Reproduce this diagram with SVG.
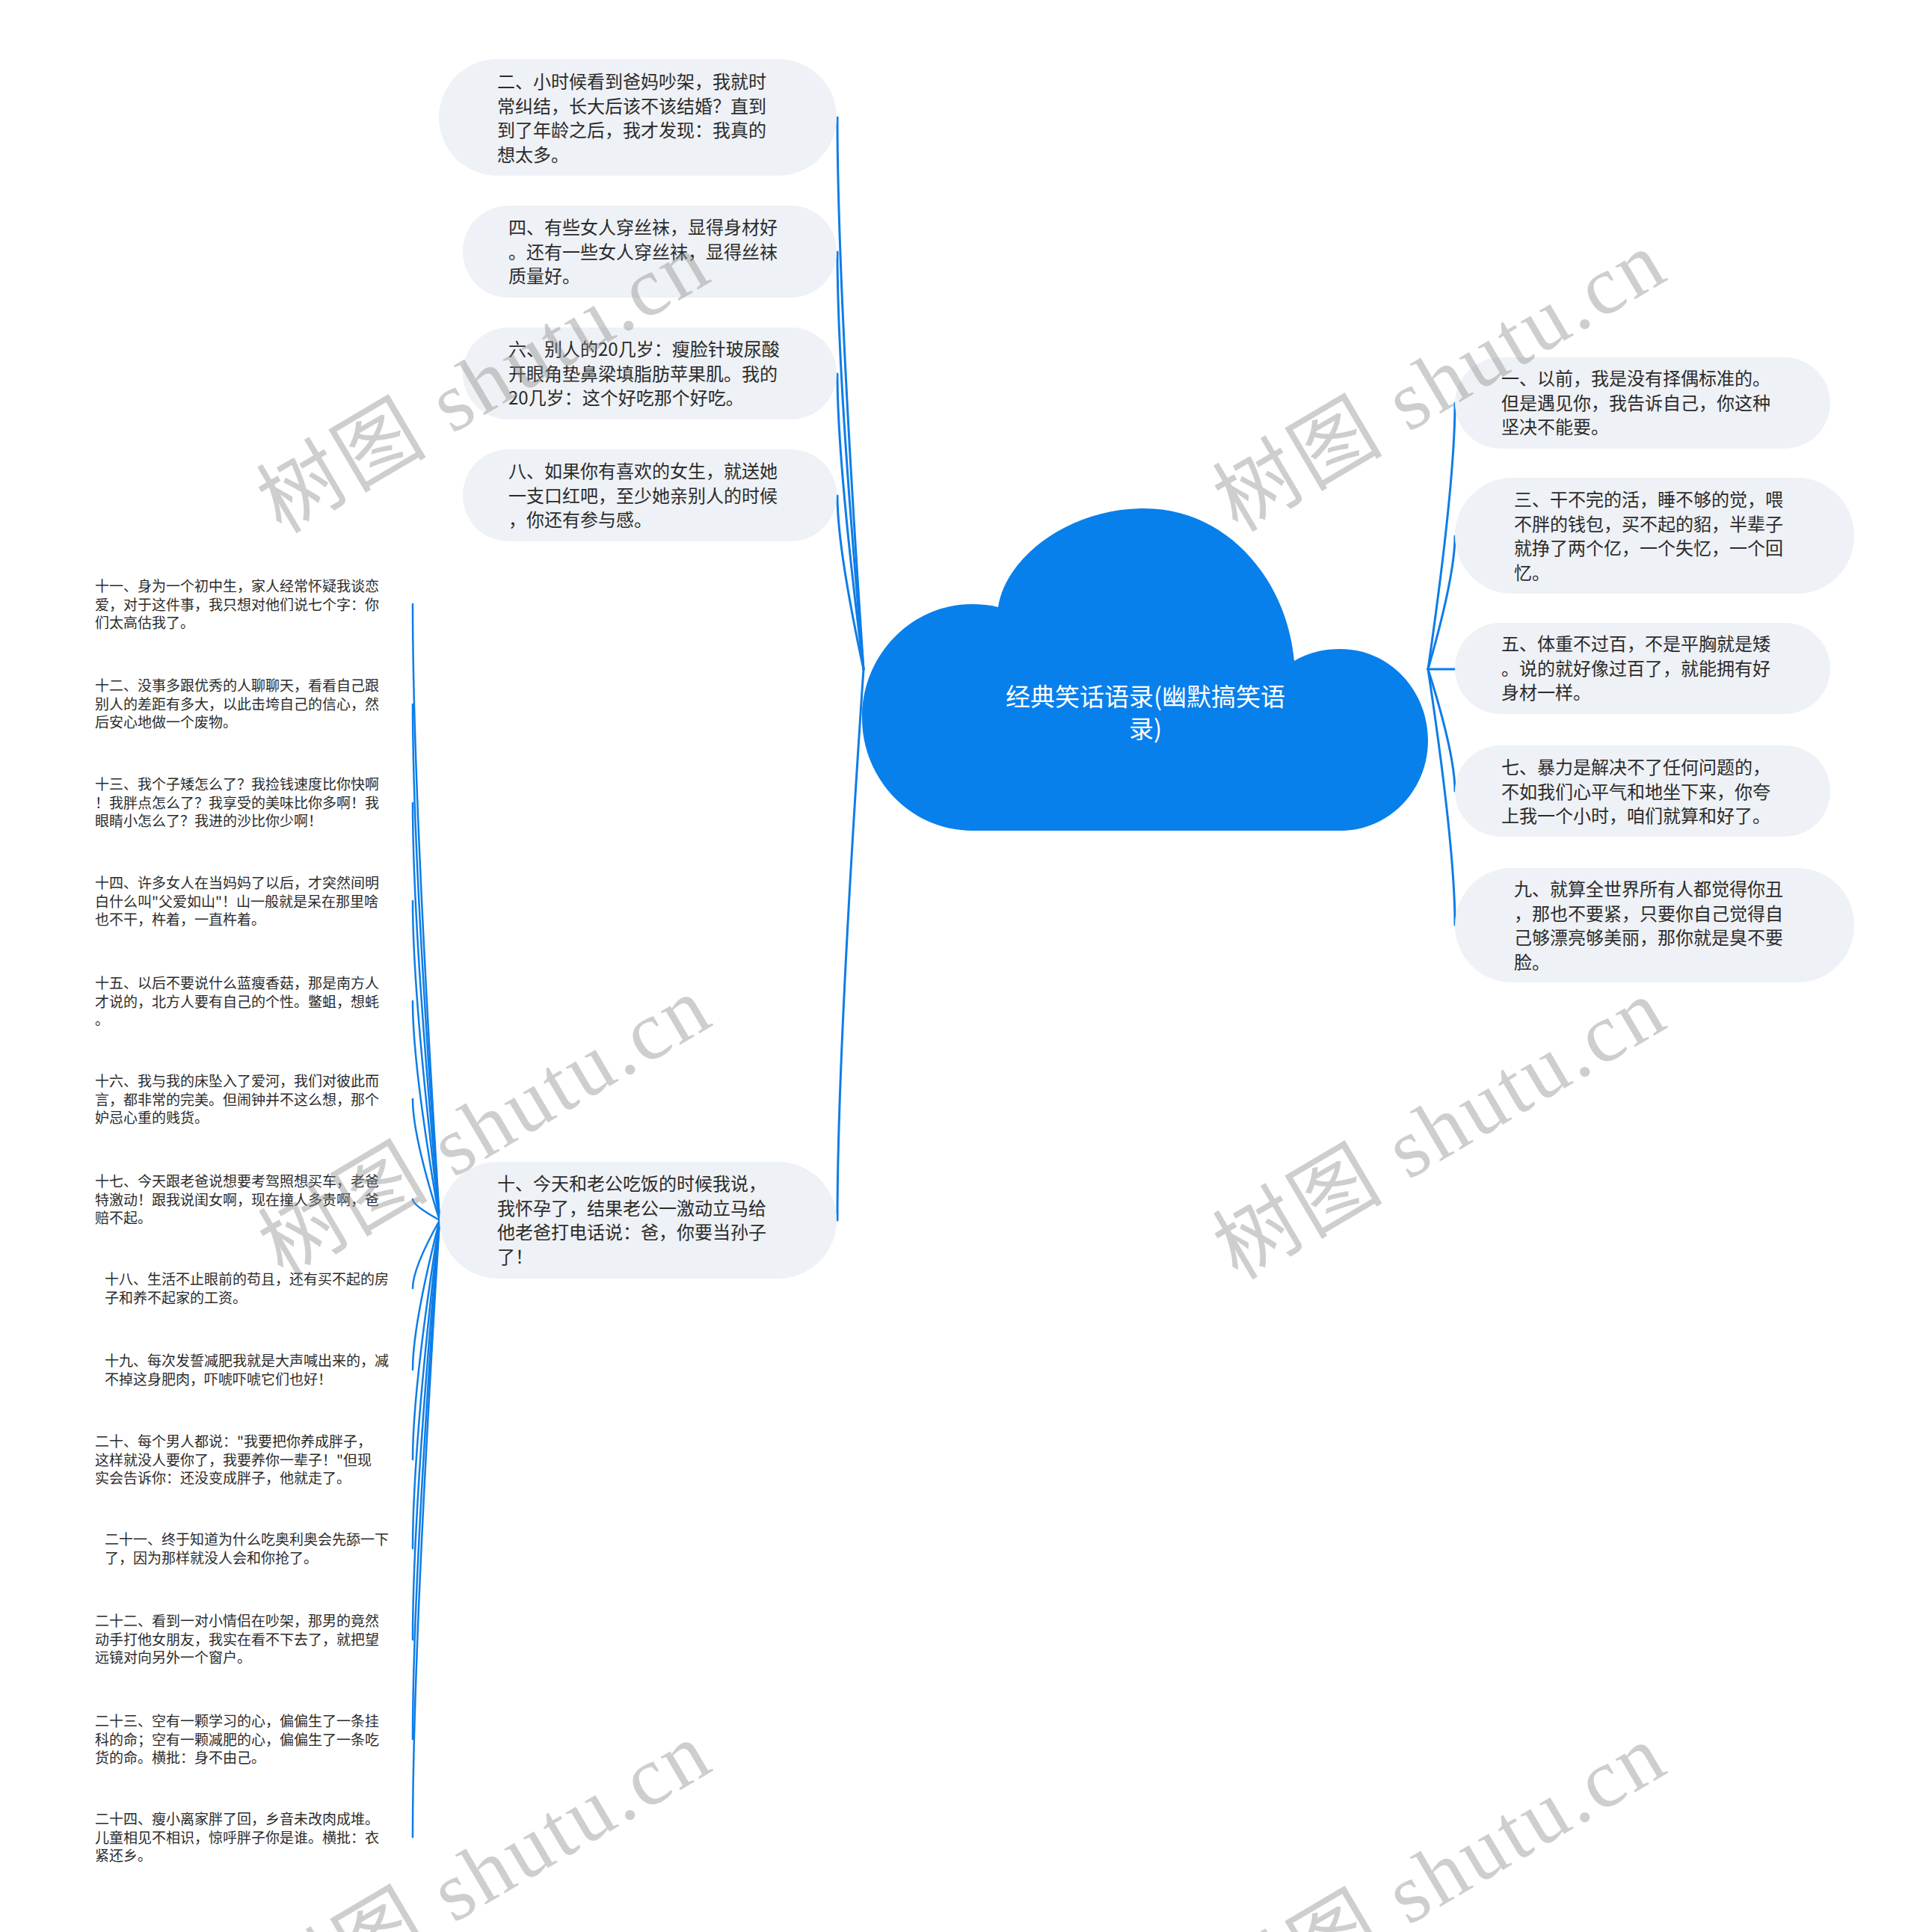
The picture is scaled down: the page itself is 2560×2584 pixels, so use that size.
<svg xmlns="http://www.w3.org/2000/svg" width="2560" height="2584" viewBox="0 0 2560 2584">
<defs>
<style>
.bg{fill:#ffffff}
.box{fill:#eef1f5}
.t{font-family:"Noto Sans CJK SC","Noto Sans",sans-serif;font-size:24px;fill:#2b2b2b}
.leaf{font-family:"Noto Sans CJK SC","Noto Sans",sans-serif;font-size:19px;fill:#2b2b2b}
.root{font-family:"Noto Sans CJK SC","Noto Sans",sans-serif;font-size:33px;fill:#ffffff}
.c{fill:none;stroke:#0d7de8;stroke-width:3;stroke-linecap:round}
.cl{fill:none;stroke:#0d7de8;stroke-width:2.5;stroke-linecap:round}
.wm{font-family:"Liberation Serif","Noto Sans CJK SC",serif;font-size:112px;fill:#8c8c8c;opacity:0.42}
</style>
</defs>
<rect class="bg" x="0" y="0" width="2560" height="2584"/>

<g id="connectors">
  <path class="c" d="M1155 895 Q1120 378 1120 157"/>
  <path class="c" d="M1155 895 Q1120 504 1120 337"/>
  <path class="c" d="M1155 895 Q1120 618 1120 500"/>
  <path class="c" d="M1155 895 Q1120 733 1120 663"/>
  <path class="c" d="M1155 895 Q1120 1411 1120 1632"/>
  <path class="c" d="M1910 895 Q1946 646 1946 539"/>
  <path class="c" d="M1910 895 Q1946 770 1946 717"/>
  <path class="c" d="M1910 895 L1946 895"/>
  <path class="c" d="M1910 895 Q1946 1009 1946 1058"/>
  <path class="c" d="M1910 895 Q1946 1134 1946 1237"/>
  <path class="cl" d="M588 1632 Q552 1055 552 808"/>
  <path class="cl" d="M588 1632 Q552 1149 552 942"/>
  <path class="cl" d="M588 1632 Q552 1241 552 1074"/>
  <path class="cl" d="M588 1632 Q552 1333 552 1205"/>
  <path class="cl" d="M588 1632 Q552 1427 552 1339"/>
  <path class="cl" d="M588 1632 Q552 1519 552 1470"/>
  <path class="cl" d="M588 1632 Q552 1612 552 1604"/>
  <path class="cl" d="M588 1632 Q552 1696 552 1723"/>
  <path class="cl" d="M588 1632 Q552 1772 552 1832"/>
  <path class="cl" d="M588 1632 Q552 1856 552 1952"/>
  <path class="cl" d="M588 1632 Q552 1939 552 2071"/>
  <path class="cl" d="M588 1632 Q552 2025 552 2193"/>
  <path class="cl" d="M588 1632 Q552 2118 552 2326"/>
  <path class="cl" d="M588 1632 Q552 2210 552 2457"/>
</g>

<g id="root">
  <path fill="#0880ec" d="M1300 1111 C1219 1111 1153 1043 1153 960 C1153 876 1219 808 1300 808 C1312 808 1324 809 1335 812 C1345 745 1430 680 1530 680 C1645 680 1722 780 1731 884 C1750 873 1770 868 1793 868 C1858 868 1910 923 1910 990 C1910 1057 1858 1111 1793 1111 Z"/>
  <text class="root" text-anchor="middle" x="1532" y="944">经典笑话语录(幽默搞笑语</text>
  <text class="root" text-anchor="middle" x="1532" y="987">录)</text>
</g>

<g id="n1">
  <rect class="box" x="1946" y="478" width="502" height="122" rx="61"/>
  <text class="t" x="2008" y="515"><tspan x="2008">一、以前，我是没有择偶标准的。</tspan><tspan x="2008" dy="32.5">但是遇见你，我告诉自己，你这种</tspan><tspan x="2008" dy="32.5">坚决不能要。</tspan></text>
</g>
<g id="n3">
  <rect class="box" x="1946" y="639" width="534" height="155" rx="77"/>
  <text class="t" x="2025" y="677"><tspan x="2025">三、干不完的活，睡不够的觉，喂</tspan><tspan x="2025" dy="32.5">不胖的钱包，买不起的貂，半辈子</tspan><tspan x="2025" dy="32.5">就挣了两个亿，一个失忆，一个回</tspan><tspan x="2025" dy="32.5">忆。</tspan></text>
</g>
<g id="n5">
  <rect class="box" x="1946" y="833" width="502" height="122" rx="61"/>
  <text class="t" x="2008" y="870"><tspan x="2008">五、体重不过百，不是平胸就是矮</tspan><tspan x="2008" dy="32.5">。说的就好像过百了，就能拥有好</tspan><tspan x="2008" dy="32.5">身材一样。</tspan></text>
</g>
<g id="n7">
  <rect class="box" x="1946" y="997" width="502" height="122" rx="61"/>
  <text class="t" x="2008" y="1035"><tspan x="2008">七、暴力是解决不了任何问题的，</tspan><tspan x="2008" dy="32.5">不如我们心平气和地坐下来，你夸</tspan><tspan x="2008" dy="32.5">上我一个小时，咱们就算和好了。</tspan></text>
</g>
<g id="n9">
  <rect class="box" x="1946" y="1161" width="534" height="153" rx="76"/>
  <text class="t" x="2025" y="1198"><tspan x="2025">九、就算全世界所有人都觉得你丑</tspan><tspan x="2025" dy="32.5">，那也不要紧，只要你自己觉得自</tspan><tspan x="2025" dy="32.5">己够漂亮够美丽，那你就是臭不要</tspan><tspan x="2025" dy="32.5">脸。</tspan></text>
</g>

<g id="n2">
  <rect class="box" x="587" y="79" width="532" height="156" rx="78"/>
  <text class="t" x="665" y="118"><tspan x="665">二、小时候看到爸妈吵架，我就时</tspan><tspan x="665" dy="32.5">常纠结，长大后该不该结婚？直到</tspan><tspan x="665" dy="32.5">到了年龄之后，我才发现：我真的</tspan><tspan x="665" dy="32.5">想太多。</tspan></text>
</g>
<g id="n4">
  <rect class="box" x="619" y="275" width="500" height="123" rx="61"/>
  <text class="t" x="680" y="313"><tspan x="680">四、有些女人穿丝袜，显得身材好</tspan><tspan x="680" dy="32.5">。还有一些女人穿丝袜，显得丝袜</tspan><tspan x="680" dy="32.5">质量好。</tspan></text>
</g>
<g id="n6">
  <rect class="box" x="619" y="438" width="500" height="123" rx="61"/>
  <text class="t" x="680" y="476"><tspan x="680">六、别人的20几岁：瘦脸针玻尿酸</tspan><tspan x="680" dy="32.5">开眼角垫鼻梁填脂肪苹果肌。我的</tspan><tspan x="680" dy="32.5">20几岁：这个好吃那个好吃。</tspan></text>
</g>
<g id="n8">
  <rect class="box" x="619" y="601" width="500" height="123" rx="61"/>
  <text class="t" x="680" y="639"><tspan x="680">八、如果你有喜欢的女生，就送她</tspan><tspan x="680" dy="32.5">一支口红吧，至少她亲别人的时候</tspan><tspan x="680" dy="32.5">，你还有参与感。</tspan></text>
</g>
<g id="n10">
  <rect class="box" x="588" y="1554" width="531" height="156" rx="78"/>
  <text class="t" x="665" y="1592"><tspan x="665">十、今天和老公吃饭的时候我说，</tspan><tspan x="665" dy="32.5">我怀孕了，结果老公一激动立马给</tspan><tspan x="665" dy="32.5">他老爸打电话说：爸，你要当孙子</tspan><tspan x="665" dy="32.5">了！</tspan></text>
</g>

<g id="n11"><text class="leaf" x="127" y="791"><tspan x="127">十一、身为一个初中生，家人经常怀疑我谈恋</tspan><tspan x="127" dy="24.5">爱，对于这件事，我只想对他们说七个字：你</tspan><tspan x="127" dy="24.5">们太高估我了。</tspan></text></g>
<g id="n12"><text class="leaf" x="127" y="924"><tspan x="127">十二、没事多跟优秀的人聊聊天，看看自己跟</tspan><tspan x="127" dy="24.5">别人的差距有多大，以此击垮自己的信心，然</tspan><tspan x="127" dy="24.5">后安心地做一个废物。</tspan></text></g>
<g id="n13"><text class="leaf" x="127" y="1056"><tspan x="127">十三、我个子矮怎么了？我捡钱速度比你快啊</tspan><tspan x="127" dy="24.5">！我胖点怎么了？我享受的美味比你多啊！我</tspan><tspan x="127" dy="24.5">眼睛小怎么了？我进的沙比你少啊！</tspan></text></g>
<g id="n14"><text class="leaf" x="127" y="1188"><tspan x="127">十四、许多女人在当妈妈了以后，才突然间明</tspan><tspan x="127" dy="24.5">白什么叫"父爱如山"！山一般就是呆在那里啥</tspan><tspan x="127" dy="24.5">也不干，杵着，一直杵着。</tspan></text></g>
<g id="n15"><text class="leaf" x="127" y="1322"><tspan x="127">十五、以后不要说什么蓝瘦香菇，那是南方人</tspan><tspan x="127" dy="24.5">才说的，北方人要有自己的个性。鳖蛆，想蚝</tspan><tspan x="127" dy="24.5">。</tspan></text></g>
<g id="n16"><text class="leaf" x="127" y="1453"><tspan x="127">十六、我与我的床坠入了爱河，我们对彼此而</tspan><tspan x="127" dy="24.5">言，都非常的完美。但闹钟并不这么想，那个</tspan><tspan x="127" dy="24.5">妒忌心重的贱货。</tspan></text></g>
<g id="n17"><text class="leaf" x="127" y="1587"><tspan x="127">十七、今天跟老爸说想要考驾照想买车，老爸</tspan><tspan x="127" dy="24.5">特激动！跟我说闺女啊，现在撞人多贵啊，爸</tspan><tspan x="127" dy="24.5">赔不起。</tspan></text></g>
<g id="n18"><text class="leaf" x="140" y="1718"><tspan x="140">十八、生活不止眼前的苟且，还有买不起的房</tspan><tspan x="140" dy="24.5">子和养不起家的工资。</tspan></text></g>
<g id="n19"><text class="leaf" x="140" y="1827"><tspan x="140">十九、每次发誓减肥我就是大声喊出来的，减</tspan><tspan x="140" dy="24.5">不掉这身肥肉，吓唬吓唬它们也好！</tspan></text></g>
<g id="n20"><text class="leaf" x="127" y="1935"><tspan x="127">二十、每个男人都说："我要把你养成胖子，</tspan><tspan x="127" dy="24.5">这样就没人要你了，我要养你一辈子！"但现</tspan><tspan x="127" dy="24.5">实会告诉你：还没变成胖子，他就走了。</tspan></text></g>
<g id="n21"><text class="leaf" x="140" y="2066"><tspan x="140">二十一、终于知道为什么吃奥利奥会先舔一下</tspan><tspan x="140" dy="24.5">了，因为那样就没人会和你抢了。</tspan></text></g>
<g id="n22"><text class="leaf" x="127" y="2175"><tspan x="127">二十二、看到一对小情侣在吵架，那男的竟然</tspan><tspan x="127" dy="24.5">动手打他女朋友，我实在看不下去了，就把望</tspan><tspan x="127" dy="24.5">远镜对向另外一个窗户。</tspan></text></g>
<g id="n23"><text class="leaf" x="127" y="2309"><tspan x="127">二十三、空有一颗学习的心，偏偏生了一条挂</tspan><tspan x="127" dy="24.5">科的命；空有一颗减肥的心，偏偏生了一条吃</tspan><tspan x="127" dy="24.5">货的命。横批：身不由己。</tspan></text></g>
<g id="n24"><text class="leaf" x="127" y="2440"><tspan x="127">二十四、瘦小离家胖了回，乡音未改肉成堆。</tspan><tspan x="127" dy="24.5">儿童相见不相识，惊呼胖子你是谁。横批：衣</tspan><tspan x="127" dy="24.5">紧还乡。</tspan></text></g>

<g id="watermarks">
  <text class="wm" text-anchor="middle" textLength="670" lengthAdjust="spacing" transform="translate(665,545) rotate(-30.5)">树图 shutu.cn</text>
  <text class="wm" text-anchor="middle" textLength="670" lengthAdjust="spacing" transform="translate(1944,543) rotate(-30.5)">树图 shutu.cn</text>
  <text class="wm" text-anchor="middle" textLength="670" lengthAdjust="spacing" transform="translate(667,1540) rotate(-30.5)">树图 shutu.cn</text>
  <text class="wm" text-anchor="middle" textLength="670" lengthAdjust="spacing" transform="translate(1944,1543) rotate(-30.5)">树图 shutu.cn</text>
  <text class="wm" text-anchor="middle" textLength="670" lengthAdjust="spacing" transform="translate(667,2537) rotate(-30.5)">树图 shutu.cn</text>
  <text class="wm" text-anchor="middle" textLength="670" lengthAdjust="spacing" transform="translate(1944,2540) rotate(-30.5)">树图 shutu.cn</text>
</g>
</svg>
